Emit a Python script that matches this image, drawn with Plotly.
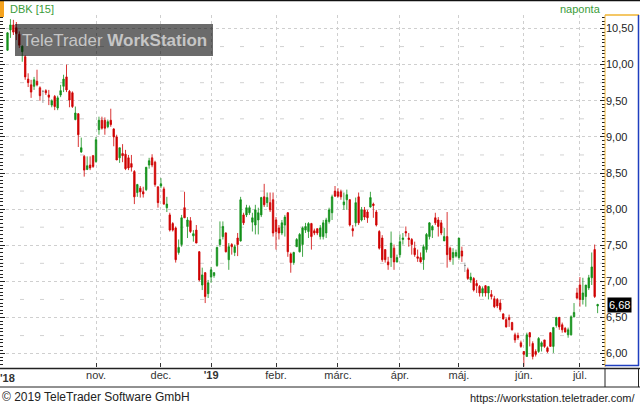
import plotly.graph_objects as go

# ---- data (DBK daily) ----
opens = [10.20, 10.48, 10.55, 10.51, 10.42, 10.18, 10.11, 9.80, 9.72, 9.70,
         9.77, 9.68, 9.63, 9.64, 9.58, 9.44, 9.56, 9.40, 9.58, 9.70,
         9.83, 9.63, 9.61, 9.24, 9.32, 8.79, 8.73, 8.55, 8.61, 8.74,
         8.66, 9.10, 9.23, 9.23, 9.14, 9.23, 9.11, 9.00, 8.71, 8.77,
         8.76, 8.71, 8.63, 8.52, 8.23, 8.29, 8.24, 8.27, 8.61, 8.71,
         8.65, 8.31, 8.32, 8.28, 8.02, 7.92, 7.80, 7.74, 7.40, 7.51,
         8.02, 7.76, 7.84, 7.63, 7.71, 7.41, 6.95, 7.12, 6.83, 7.06,
         7.08, 7.22, 7.51, 7.62, 7.67, 7.30, 7.51, 7.40, 7.60, 7.56,
         7.92, 7.92, 7.95, 7.82, 7.78, 7.85, 7.92, 8.17, 8.09, 8.09,
         8.13, 7.85, 7.74, 7.67, 7.78, 7.95, 7.38, 7.26, 7.48, 7.41,
         7.51, 7.71, 7.69, 7.80, 7.70, 7.73, 7.62, 7.62, 7.67, 7.83,
         7.95, 8.25, 8.24, 8.24, 8.06, 8.13, 8.13, 7.73, 7.81, 8.17,
         7.85, 7.99, 7.96, 8.03, 8.07, 7.96, 7.69, 7.60, 7.44, 7.27,
         7.33, 7.46, 7.27, 7.37, 7.58, 7.69, 7.60, 7.58, 7.46, 7.34,
         7.33, 7.30, 7.44, 7.62, 7.71, 7.88, 7.85, 7.81, 7.56, 7.62,
         7.46, 7.33, 7.35, 7.33, 7.42, 7.22, 7.16, 7.02, 7.04, 6.97,
         6.93, 6.84, 6.94, 6.84, 6.82, 6.76, 6.75, 6.70, 6.55, 6.47,
         6.50, 6.43, 6.26, 6.25, 6.15, 6.03, 5.96, 6.29, 6.14, 6.03,
         6.03, 6.10, 6.19, 6.08, 6.29, 6.10, 6.39, 6.50, 6.40, 6.35,
         6.26, 6.26, 6.51, 6.84, 6.95, 6.75, 6.79, 6.91, 7.05, 7.44,
         6.66]
highs = [10.45, 10.63, 10.62, 10.59, 10.46, 10.27, 10.13, 9.88, 9.79, 9.83,
         9.93, 9.70, 9.65, 9.66, 9.65, 9.52, 9.58, 9.57, 9.72, 9.86,
         10.00, 9.65, 9.63, 9.42, 9.33, 8.99, 8.75, 8.73, 8.73, 8.75,
         9.00, 9.28, 9.28, 9.27, 9.24, 9.39, 9.12, 9.03, 8.85, 8.90,
         8.82, 8.75, 8.75, 8.54, 8.35, 8.32, 8.31, 8.58, 8.71, 8.76,
         8.67, 8.31, 8.43, 8.31, 8.17, 7.95, 7.82, 7.76, 7.58, 7.92,
         8.24, 7.89, 7.89, 7.71, 7.78, 7.42, 7.19, 7.13, 7.02, 7.20,
         7.13, 7.48, 7.83, 7.83, 7.68, 7.53, 7.53, 7.51, 7.67, 8.17,
         7.95, 8.06, 8.05, 7.95, 8.06, 8.02, 8.17, 8.35, 8.23, 8.23,
         8.23, 7.89, 7.78, 7.85, 7.92, 7.96, 7.40, 7.41, 7.60, 7.67,
         7.76, 7.81, 7.82, 7.81, 7.73, 7.73, 7.78, 7.85, 7.88, 8.02,
         8.20, 8.32, 8.29, 8.27, 8.23, 8.27, 8.14, 7.78, 8.16, 8.23,
         8.03, 8.03, 7.99, 8.24, 8.09, 7.99, 7.71, 7.64, 7.44, 7.34,
         7.69, 7.51, 7.37, 7.65, 7.67, 7.76, 7.67, 7.60, 7.55, 7.44,
         7.40, 7.51, 7.67, 7.82, 7.78, 7.95, 7.89, 7.85, 7.74, 7.96,
         7.48, 7.46, 7.44, 7.60, 7.48, 7.26, 7.19, 7.12, 7.06, 7.02,
         6.95, 6.93, 6.95, 6.93, 6.88, 6.80, 6.77, 6.75, 6.56, 6.50,
         6.54, 6.44, 6.29, 6.29, 6.18, 6.03, 6.29, 6.30, 6.17, 6.06,
         6.23, 6.17, 6.19, 6.10, 6.30, 6.37, 6.51, 6.51, 6.43, 6.37,
         6.36, 6.53, 6.70, 6.91, 7.06, 7.05, 6.95, 7.09, 7.40, 7.51,
         6.69]
lows = [10.19, 10.37, 10.41, 10.34, 10.23, 10.04, 9.79, 9.69, 9.54, 9.65,
        9.70, 9.50, 9.47, 9.58, 9.44, 9.41, 9.37, 9.37, 9.55, 9.62,
        9.62, 9.41, 9.40, 9.23, 8.86, 8.78, 8.45, 8.54, 8.54, 8.57,
        8.64, 9.03, 9.10, 9.03, 9.12, 9.14, 8.87, 8.68, 8.64, 8.65,
        8.54, 8.54, 8.52, 8.07, 8.17, 8.16, 8.16, 8.25, 8.56, 8.58,
        8.31, 8.02, 8.29, 8.06, 7.96, 7.69, 7.69, 7.26, 7.37, 7.48,
        7.88, 7.60, 7.67, 7.55, 7.53, 7.00, 6.88, 6.70, 6.77, 6.98,
        7.05, 7.20, 7.48, 7.58, 7.40, 7.16, 7.37, 7.35, 7.35, 7.55,
        7.78, 7.89, 7.92, 7.69, 7.65, 7.65, 7.89, 8.03, 8.03, 7.96,
        7.62, 7.44, 7.58, 7.64, 7.62, 7.34, 7.12, 7.23, 7.48, 7.40,
        7.34, 7.67, 7.60, 7.44, 7.64, 7.64, 7.58, 7.58, 7.60, 7.80,
        7.85, 8.17, 8.16, 8.13, 7.99, 7.99, 7.76, 7.62, 7.76, 7.78,
        7.83, 7.85, 7.81, 8.02, 7.88, 7.76, 7.44, 7.27, 7.26, 7.16,
        7.20, 7.16, 7.26, 7.33, 7.51, 7.62, 7.48, 7.37, 7.34, 7.27,
        7.26, 7.16, 7.40, 7.58, 7.60, 7.78, 7.62, 7.64, 7.56, 7.19,
        7.27, 7.23, 7.33, 7.30, 7.27, 7.13, 7.02, 6.98, 6.86, 6.84,
        6.79, 6.79, 6.79, 6.75, 6.75, 6.63, 6.63, 6.58, 6.47, 6.36,
        6.37, 6.32, 6.15, 6.19, 6.08, 5.82, 5.96, 6.10, 5.92, 5.96,
        6.01, 6.03, 6.08, 6.01, 6.10, 6.01, 6.36, 6.33, 6.29, 6.29,
        6.22, 6.25, 6.50, 6.75, 6.65, 6.68, 6.65, 6.88, 6.95, 6.77,
        6.56]
closes = [10.44, 10.55, 10.45, 10.43, 10.27, 10.25, 9.83, 9.75, 9.62, 9.79,
          9.72, 9.57, 9.63, 9.61, 9.55, 9.50, 9.42, 9.54, 9.64, 9.80,
          9.65, 9.51, 9.42, 9.33, 9.03, 8.85, 8.54, 8.60, 8.57, 8.59,
          8.96, 9.23, 9.12, 9.12, 9.21, 9.17, 9.00, 8.68, 8.85, 8.74,
          8.56, 8.57, 8.58, 8.17, 8.34, 8.24, 8.21, 8.58, 8.67, 8.61,
          8.34, 8.09, 8.35, 8.07, 8.07, 7.71, 7.71, 7.30, 7.47, 7.88,
          7.88, 7.85, 7.69, 7.66, 7.53, 7.02, 7.09, 6.79, 6.98, 7.16,
          7.12, 7.47, 7.58, 7.76, 7.41, 7.48, 7.48, 7.48, 7.51, 8.13,
          7.81, 8.02, 8.02, 7.88, 7.99, 7.95, 8.16, 8.06, 8.16, 7.99,
          7.67, 7.69, 7.67, 7.81, 7.89, 7.41, 7.26, 7.40, 7.58, 7.65,
          7.74, 7.76, 7.80, 7.62, 7.67, 7.67, 7.74, 7.81, 7.85, 7.99,
          8.17, 8.18, 8.18, 8.17, 8.10, 8.20, 7.78, 7.70, 8.09, 7.81,
          7.99, 7.89, 7.88, 8.16, 8.05, 7.78, 7.46, 7.30, 7.30, 7.23,
          7.53, 7.27, 7.33, 7.55, 7.60, 7.67, 7.58, 7.51, 7.37, 7.32,
          7.27, 7.48, 7.65, 7.81, 7.76, 7.81, 7.76, 7.67, 7.62, 7.37,
          7.30, 7.40, 7.40, 7.60, 7.35, 7.22, 7.04, 7.06, 6.88, 6.94,
          6.84, 6.90, 6.84, 6.93, 6.79, 6.65, 6.66, 6.61, 6.48, 6.37,
          6.47, 6.33, 6.19, 6.22, 6.10, 5.99, 6.26, 6.23, 5.96, 5.99,
          6.21, 6.15, 6.10, 6.03, 6.10, 6.36, 6.50, 6.37, 6.33, 6.30,
          6.33, 6.51, 6.57, 6.77, 6.75, 6.84, 6.95, 7.05, 7.20, 6.79,
          6.68]

month_idx = [30, 52, 69, 91, 112, 133, 153, 175, 194]
month_labels = ["nov.", "dec.", "<b>'19</b>", "febr.", "márc.", "ápr.",
                "máj.", "jún.", "júl."]
first_label = "<b>'18</b>"
quarter_levels = [6.25, 6.75, 7.25, 7.75, 8.25, 8.75, 9.25, 9.75, 10.25]
symbol_text = "DBK [15]"
period_text = "naponta"
watermark_text = "TeleTrader <b>WorkStation</b>"
footer_left = "© 2019 TeleTrader Software GmbH"
footer_right = "https://workstation.teletrader.com/"

GREEN = "#13901a"
RED = "#cf0000"
GRAY = "#8a8a8a"
HDR_GREEN = "#3a9c3a"
FONT = "Liberation Sans, Arial, sans-serif"

n = len(opens)
idx = list(range(n))
groups = [
    ([i for i in idx if closes[i] > opens[i]], GREEN),
    ([i for i in idx if closes[i] < opens[i]], RED),
    ([i for i in idx if closes[i] == opens[i]], GRAY),
]


def pick(arr, ii):
    return [arr[i] for i in ii]


fig = go.Figure()
for ii, col in groups:
    if not ii:
        continue
    fig.add_trace(go.Candlestick(
        x=ii, open=pick(opens, ii), high=pick(highs, ii),
        low=pick(lows, ii), close=pick(closes, ii),
        increasing=dict(line=dict(color=col, width=0.8), fillcolor=col),
        decreasing=dict(line=dict(color=col, width=0.8), fillcolor=col),
        whiskerwidth=0, showlegend=False, hoverinfo="skip",
    ))

shapes = []
for q in quarter_levels:
    shapes.append(dict(type="line", xref="paper", yref="y", x0=0, x1=1, y0=q, y1=q,
                       line=dict(color="#d2d2d2", width=1, dash="4px,16px"), layer="below"))

PX = 605.0   # plot width in px
PY = 352.0   # plot height in px


def px_x(v):
    return v / PX


def px_y(v):
    return (367 - v) / PY


# watermark
shapes.append(dict(type="rect", xref="paper", yref="paper",
                   x0=px_x(15), x1=px_x(213), y0=px_y(56), y1=px_y(24),
                   fillcolor="rgba(0,0,0,0.58)", line=dict(width=0)))
# header marks
shapes.append(dict(type="rect", xref="paper", yref="paper",
                   x0=0, x1=px_x(4), y0=px_y(17), y1=px_y(0),
                   fillcolor="#f5a21e", line=dict(width=0)))
shapes.append(dict(type="line", xref="paper", yref="paper",
                   x0=0, x1=px_x(640), y0=px_y(0.6), y1=px_y(0.6),
                   line=dict(color="#111", width=1.5)))
# right axis panel
shapes.append(dict(type="line", xref="paper", yref="paper", x0=1, x1=1, y0=0, y1=1,
                   line=dict(color="#f0b432", width=1)))
shapes.append(dict(type="line", xref="paper", yref="paper", x0=1, x1=px_x(639), y0=1, y1=1,
                   line=dict(color="#f0b432", width=1.5)))
shapes.append(dict(type="line", xref="paper", yref="paper", x0=px_x(638.5), x1=px_x(638.5),
                   y0=px_y(366), y1=1, line=dict(color="#1f3fbf", width=1.5)))
shapes.append(dict(type="line", xref="paper", yref="paper", x0=1, x1=px_x(639),
                   y0=px_y(365.5), y1=px_y(365.5), line=dict(color="#1f3fbf", width=1.5)))
# bottom frame
shapes.append(dict(type="line", xref="paper", yref="paper", x0=0, x1=px_x(640),
                   y0=px_y(368.5), y1=px_y(368.5), line=dict(color="#222", width=1.5)))
shapes.append(dict(type="line", xref="paper", yref="paper", x0=0, x1=px_x(640),
                   y0=px_y(387), y1=px_y(387), line=dict(color="#222", width=1)))
shapes.append(dict(type="line", xref="paper", yref="paper", x0=1, x1=1,
                   y0=px_y(368), y1=px_y(387), line=dict(color="#222", width=1)))
shapes.append(dict(type="line", xref="paper", yref="paper", x0=px_x(638.5), x1=px_x(638.5),
                   y0=px_y(368), y1=px_y(387), line=dict(color="#222", width=1)))

last = closes[-1]
annotations = [
    dict(xref="paper", yref="paper", x=px_x(8), y=px_y(9), xanchor="left", yanchor="middle",
         text=symbol_text, showarrow=False, font=dict(family=FONT, size=11, color=HDR_GREEN)),
    dict(xref="paper", yref="paper", x=px_x(603), y=px_y(9), xanchor="right", yanchor="middle",
         text=period_text, showarrow=False, font=dict(family=FONT, size=11, color=HDR_GREEN)),
    dict(xref="paper", yref="paper", x=px_x(114), y=px_y(40), xanchor="center", yanchor="middle",
         text=watermark_text, showarrow=False, font=dict(family=FONT, size=17, color="#c6c6c6")),
    dict(xref="x", yref="paper", x=0, y=px_y(377.5), xanchor="center", yanchor="middle",
         text=first_label, showarrow=False, font=dict(family=FONT, size=11, color="#333")),
    dict(xref="paper", yref="paper", x=0, y=px_y(397), xanchor="left", yanchor="middle",
         text=footer_left, showarrow=False, font=dict(family=FONT, size=12, color="#222")),
    dict(xref="paper", yref="paper", x=px_x(637), y=px_y(397.5), xanchor="right", yanchor="middle",
         text=footer_right, showarrow=False, font=dict(family=FONT, size=11, color="#222")),
    dict(xref="paper", yref="y", x=1, y=last, xanchor="left", yanchor="middle", xshift=2,
         text=f"{last:.2f}".replace(".", ","), showarrow=False, bgcolor="#000",
         borderpad=1, font=dict(family=FONT, size=11, color="#fff")),
]

fig.update_layout(
    width=640, height=405,
    margin=dict(l=0, r=35, t=15, b=38),
    paper_bgcolor="white", plot_bgcolor="white",
    separators=",.",
    boxgap=0.3,
    showlegend=False,
    hovermode=False,
    font=dict(family=FONT, size=11, color="#222"),
    xaxis=dict(range=[-2.54, 202.5], tickmode="array", tickvals=month_idx, ticktext=month_labels,
               ticks="inside", ticklen=4, tickcolor="#333", showgrid=True, gridcolor="#cfcfcf",
               griddash="dot", showline=False, zeroline=False,
               rangeslider=dict(visible=False), tickfont=dict(family=FONT, size=11, color="#333")),
    yaxis=dict(side="right", range=[5.815, 10.687], tick0=6, dtick=0.5, tickformat=".2f",
               ticks="inside", ticklen=5, tickcolor="#222", mirror="ticks", showline=False,
               showgrid=True, gridcolor="#cfcfcf", griddash="dot", zeroline=False,
               tickfont=dict(family=FONT, size=11, color="#222"),
               minor=dict(dtick=0.05, ticks="inside", ticklen=3, tickcolor="#222", showgrid=False)),
    shapes=shapes,
    annotations=annotations,
)

fig.write_html("out.html", config={"displayModeBar": False},
               post_script="document.body.style.margin='0';document.body.style.overflow='hidden';")
